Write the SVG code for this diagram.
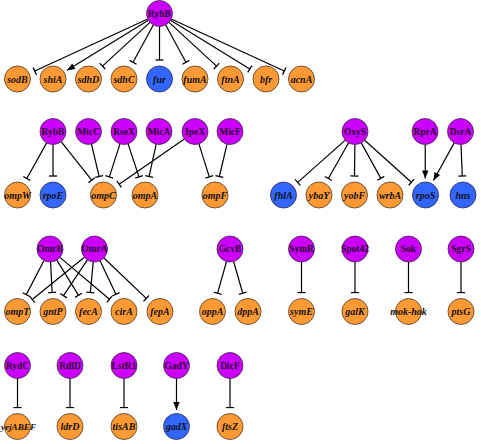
<svg xmlns="http://www.w3.org/2000/svg" width="481" height="444" viewBox="0 0 481 444">
<style>
.s circle{fill:#cc00ff;stroke:#3a2a3a;stroke-width:0.8}
.o circle{fill:#ff9933;stroke:#4a3a2a;stroke-width:0.8}
.b circle{fill:#3366ff;stroke:#2a2a4a;stroke-width:0.8}
text{font-family:"Liberation Serif","Times New Roman",serif;font-weight:bold;text-anchor:middle}
.s text{font-size:9.5px;fill:#2a002a}
.o text,.b text{font-size:10px;font-style:italic;fill:#111}
#edges line{stroke:#000;stroke-width:1.2;fill:none}
#edges .t{marker-end:url(#tee)}
#edges .a{marker-end:url(#arr)}
</style>
<defs>
<marker id="tee" markerUnits="userSpaceOnUse" viewBox="-1 -5 2 10" refX="0" refY="0" markerWidth="2" markerHeight="10" orient="auto"><line x1="0" y1="-4" x2="0" y2="4" stroke="#000" stroke-width="1.3"/></marker>
<marker id="arr" markerUnits="userSpaceOnUse" viewBox="-9 -4 10 8" refX="0" refY="0" markerWidth="10" markerHeight="8" orient="auto"><path d="M0,0 L-8,-3.2 L-8,3.2 Z" fill="#000"/></marker>
</defs>
<g id="edges">
<line class="t" x1="147.7" y1="18.95" x2="34.75" y2="71.04"/>
<line class="a" x1="148.43" y1="20.31" x2="67.05" y2="70.36"/>
<line class="t" x1="149.94" y1="22.32" x2="102.47" y2="66.12"/>
<line class="t" x1="153.31" y1="24.93" x2="133.05" y2="62.3"/>
<line class="t" x1="159.5" y1="26.5" x2="159.5" y2="60"/>
<line class="t" x1="165.69" y1="24.93" x2="185.95" y2="62.3"/>
<line class="t" x1="169.06" y1="22.32" x2="216.53" y2="66.12"/>
<line class="t" x1="170.57" y1="20.31" x2="249.82" y2="69.05"/>
<line class="t" x1="171.3" y1="18.95" x2="284.25" y2="71.04"/>
<line class="t" x1="46.66" y1="142.85" x2="26.77" y2="178.42"/>
<line class="t" x1="53" y1="144.5" x2="53" y2="176"/>
<line class="t" x1="61.09" y1="141.68" x2="91.67" y2="180.13"/>
<line class="t" x1="91.49" y1="144.15" x2="99.13" y2="176.51"/>
<line class="t" x1="120.01" y1="143.87" x2="109.34" y2="176.92"/>
<line class="t" x1="128.08" y1="143.84" x2="139.03" y2="176.96"/>
<line class="t" x1="156.2" y1="144.19" x2="149.09" y2="176.45"/>
<line class="t" x1="184.32" y1="138.91" x2="119.11" y2="184.17"/>
<line class="t" x1="198.91" y1="143.9" x2="209.29" y2="176.88"/>
<line class="t" x1="227.01" y1="144.15" x2="219.37" y2="176.51"/>
<line class="t" x1="345.28" y1="140.13" x2="297.71" y2="182.38"/>
<line class="t" x1="348.59" y1="142.81" x2="328.37" y2="178.47"/>
<line class="t" x1="354.9" y1="144.5" x2="354.5" y2="176"/>
<line class="t" x1="361.28" y1="142.88" x2="380.83" y2="178.36"/>
<line class="t" x1="364.66" y1="140.2" x2="411.38" y2="182.28"/>
<line class="a" x1="425.25" y1="144.5" x2="425.25" y2="178.5"/>
<line class="a" x1="454.22" y1="142.88" x2="433.46" y2="180.55"/>
<line class="t" x1="461" y1="144.5" x2="462.25" y2="176"/>
<line class="t" x1="44" y1="260.53" x2="26.27" y2="294.64"/>
<line class="t" x1="50.62" y1="261.99" x2="52.09" y2="292.52"/>
<line class="t" x1="56.82" y1="260.07" x2="78.53" y2="295.32"/>
<line class="t" x1="59.93" y1="257.39" x2="109.48" y2="299.24"/>
<line class="t" x1="84.41" y1="257.19" x2="32.25" y2="299.53"/>
<line class="t" x1="87.31" y1="259.83" x2="63.51" y2="295.67"/>
<line class="t" x1="93.26" y1="261.94" x2="90.32" y2="292.59"/>
<line class="t" x1="100.05" y1="260.76" x2="115.89" y2="294.32"/>
<line class="t" x1="103.91" y1="257.98" x2="146.25" y2="298.38"/>
<line class="t" x1="226.5" y1="261.52" x2="217.62" y2="293.2"/>
<line class="t" x1="233.6" y1="261.49" x2="242.74" y2="293.24"/>
<line class="t" x1="301.5" y1="262" x2="301.5" y2="292.5"/>
<line class="t" x1="355" y1="262" x2="355" y2="292.5"/>
<line class="t" x1="408.5" y1="262" x2="408.5" y2="292.5"/>
<line class="t" x1="461" y1="262" x2="461" y2="292.5"/>
<line class="t" x1="17.5" y1="378.5" x2="17.5" y2="407.5"/>
<line class="t" x1="70" y1="378.5" x2="70" y2="407.5"/>
<line class="t" x1="124" y1="378.5" x2="124" y2="407.5"/>
<line class="a" x1="176.5" y1="378.5" x2="176.5" y2="410"/>
<line class="t" x1="230" y1="378.5" x2="230" y2="407.5"/>
</g>
<g id="RyhB" class="s"><circle cx="159.5" cy="13.5" r="13"/><text x="159.5" y="16.8">RyhB</text></g>
<g id="sodB" class="o"><circle cx="17.5" cy="79" r="13"/><text x="17.5" y="82.5">sodB</text></g>
<g id="shiA" class="o"><circle cx="53" cy="79" r="13"/><text x="53" y="82.5">shiA</text></g>
<g id="sdhD" class="o"><circle cx="88.5" cy="79" r="13"/><text x="88.5" y="82.5">sdhD</text></g>
<g id="sdhC" class="o"><circle cx="124" cy="79" r="13"/><text x="124" y="82.5">sdhC</text></g>
<g id="fur" class="b"><circle cx="159.5" cy="79" r="13"/><text x="159.5" y="82.5">fur</text></g>
<g id="fumA" class="o"><circle cx="195" cy="79" r="13"/><text x="195" y="82.5">fumA</text></g>
<g id="ftnA" class="o"><circle cx="230.5" cy="79" r="13"/><text x="230.5" y="82.5">ftnA</text></g>
<g id="bfr" class="o"><circle cx="266" cy="79" r="13"/><text x="266" y="82.5">bfr</text></g>
<g id="acnA" class="o"><circle cx="301.5" cy="79" r="13"/><text x="301.5" y="82.5">acnA</text></g>
<g id="RybB" class="s"><circle cx="53" cy="131.5" r="13"/><text x="53" y="134.8">RybB</text></g>
<g id="MicC" class="s"><circle cx="88.5" cy="131.5" r="13"/><text x="88.5" y="134.8">MicC</text></g>
<g id="RseX" class="s"><circle cx="124" cy="131.5" r="13"/><text x="124" y="134.8">RseX</text></g>
<g id="MicA" class="s"><circle cx="159" cy="131.5" r="13"/><text x="159" y="134.8">MicA</text></g>
<g id="IpeX" class="s"><circle cx="195" cy="131.5" r="13"/><text x="195" y="134.8">IpeX</text></g>
<g id="MicF" class="s"><circle cx="230" cy="131.5" r="13"/><text x="230" y="134.8">MicF</text></g>
<g id="ompW" class="o"><circle cx="17.5" cy="195" r="13"/><text x="17.5" y="198.5">ompW</text></g>
<g id="rpoE" class="b"><circle cx="53" cy="195" r="13"/><text x="53" y="198.5">rpoE</text></g>
<g id="ompC" class="o"><circle cx="103.5" cy="195" r="13"/><text x="103.5" y="198.5">ompC</text></g>
<g id="ompA" class="o"><circle cx="145" cy="195" r="13"/><text x="145" y="198.5">ompA</text></g>
<g id="ompF" class="o"><circle cx="215" cy="195" r="13"/><text x="215" y="198.5">ompF</text></g>
<g id="OxyS" class="s"><circle cx="355" cy="131.5" r="13"/><text x="355" y="134.8">OxyS</text></g>
<g id="RprA" class="s"><circle cx="425" cy="131.5" r="13"/><text x="425" y="134.8">RprA</text></g>
<g id="DsrA" class="s"><circle cx="460.5" cy="131.5" r="13"/><text x="460.5" y="134.8">DsrA</text></g>
<g id="fhlA" class="b"><circle cx="283.5" cy="195" r="13"/><text x="283.5" y="198.5">fhlA</text></g>
<g id="ybaY" class="o"><circle cx="319" cy="195" r="13"/><text x="319" y="198.5">ybaY</text></g>
<g id="yobF" class="o"><circle cx="354.5" cy="195" r="13"/><text x="354.5" y="198.5">yobF</text></g>
<g id="wrbA" class="o"><circle cx="390" cy="195" r="13"/><text x="390" y="198.5">wrbA</text></g>
<g id="rpoS" class="b"><circle cx="425.5" cy="195" r="13"/><text x="425.5" y="198.5">rpoS</text></g>
<g id="hns" class="b"><circle cx="463" cy="195" r="13"/><text x="463" y="198.5">hns</text></g>
<g id="OmrB" class="s"><circle cx="50" cy="249" r="13"/><text x="50" y="252.3">OmrB</text></g>
<g id="OmrA" class="s"><circle cx="94.5" cy="249" r="13"/><text x="94.5" y="252.3">OmrA</text></g>
<g id="GcvB" class="s"><circle cx="230" cy="249" r="13"/><text x="230" y="252.3">GcvB</text></g>
<g id="SymR" class="s"><circle cx="301.5" cy="249" r="13"/><text x="301.5" y="252.3">SymR</text></g>
<g id="Spot42" class="s"><circle cx="355" cy="249" r="13"/><text x="355" y="252.3">Spot42</text></g>
<g id="Sok" class="s"><circle cx="408.5" cy="249" r="13"/><text x="408.5" y="252.3">Sok</text></g>
<g id="SgrS" class="s"><circle cx="461" cy="249" r="13"/><text x="461" y="252.3">SgrS</text></g>
<g id="ompT" class="o"><circle cx="17.5" cy="311.5" r="13"/><text x="17.5" y="315">ompT</text></g>
<g id="gntP" class="o"><circle cx="53" cy="311.5" r="13"/><text x="53" y="315">gntP</text></g>
<g id="fecA" class="o"><circle cx="88.5" cy="311.5" r="13"/><text x="88.5" y="315">fecA</text></g>
<g id="cirA" class="o"><circle cx="124" cy="311.5" r="13"/><text x="124" y="315">cirA</text></g>
<g id="fepA" class="o"><circle cx="160" cy="311.5" r="13"/><text x="160" y="315">fepA</text></g>
<g id="oppA" class="o"><circle cx="212.5" cy="311.5" r="13"/><text x="212.5" y="315">oppA</text></g>
<g id="dppA" class="o"><circle cx="248" cy="311.5" r="13"/><text x="248" y="315">dppA</text></g>
<g id="symE" class="o"><circle cx="301.5" cy="311.5" r="13"/><text x="301.5" y="315">symE</text></g>
<g id="galK" class="o"><circle cx="355" cy="311.5" r="13"/><text x="355" y="315">galK</text></g>
<g id="mok-hok" class="o"><circle cx="408.5" cy="311.5" r="13"/><text x="408.5" y="315">mok-hok</text></g>
<g id="ptsG" class="o"><circle cx="461" cy="311.5" r="13"/><text x="461" y="315">ptsG</text></g>
<g id="RydC" class="s"><circle cx="17.5" cy="365.5" r="13"/><text x="17.5" y="368.8">RydC</text></g>
<g id="RdlD" class="s"><circle cx="70" cy="365.5" r="13"/><text x="70" y="368.8">RdlD</text></g>
<g id="LstR1" class="s"><circle cx="124" cy="365.5" r="13"/><text x="124" y="368.8">LstR1</text></g>
<g id="GadY" class="s"><circle cx="176.5" cy="365.5" r="13"/><text x="176.5" y="368.8">GadY</text></g>
<g id="DicF" class="s"><circle cx="230" cy="365.5" r="13"/><text x="230" y="368.8">DicF</text></g>
<g id="yejABEF" class="o"><circle cx="17.5" cy="426.5" r="13"/><text x="18.5" y="430" style="font-size:9.2px">yejABEF</text></g>
<g id="ldrD" class="o"><circle cx="70" cy="426.5" r="13"/><text x="70" y="430">ldrD</text></g>
<g id="tisAB" class="o"><circle cx="124" cy="426.5" r="13"/><text x="124" y="430">tisAB</text></g>
<g id="gadX" class="b"><circle cx="176.5" cy="426.5" r="13"/><text x="176.5" y="430">gadX</text></g>
<g id="ftsZ" class="o"><circle cx="230" cy="426.5" r="13"/><text x="230" y="430">ftsZ</text></g>
</svg>
